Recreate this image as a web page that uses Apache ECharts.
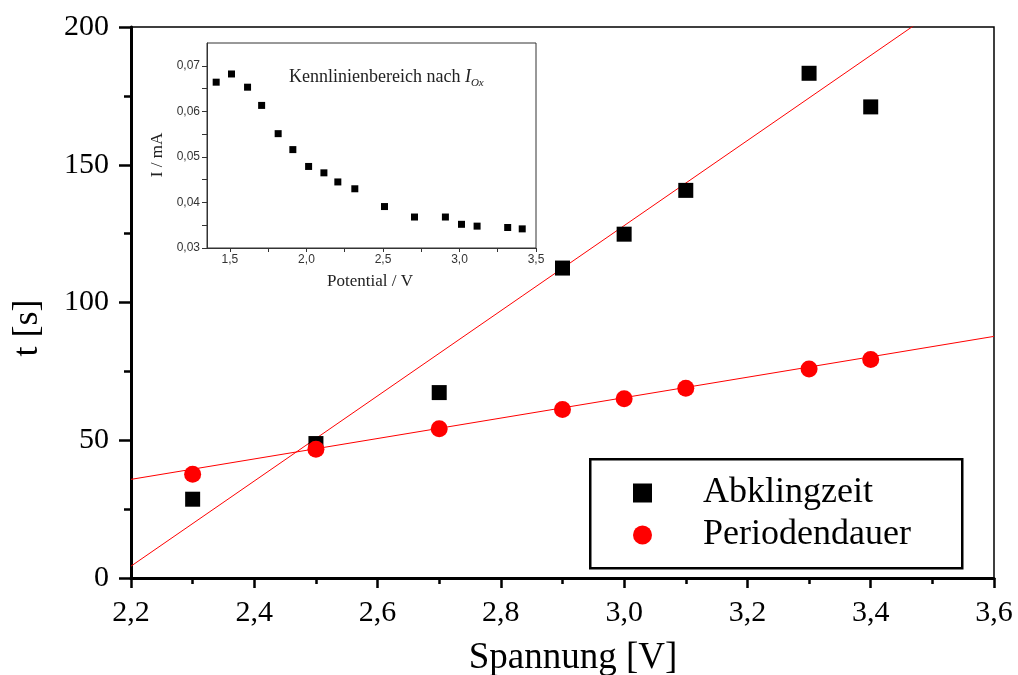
<!DOCTYPE html>
<html>
<head>
<meta charset="utf-8">
<script src="https://cdn.jsdelivr.net/npm/echarts@6/dist/echarts.min.js"></script>
<style>
html,body{margin:0;padding:0;background:#fff;}
#chart{width:1018px;height:675px;}
</style>
</head>
<body>
<div id="chart"></div>
<script>
// ---- main chart data ----
const spannung = [2.3, 2.5, 2.7, 2.9, 3.0, 3.1, 3.3, 3.4];
const abklingzeit = [28.6, 48.8, 67.3, 112.5, 124.8, 140.7, 183.2, 171.0];
const periodendauer = [37.7, 46.7, 54.2, 61.2, 65.1, 68.9, 75.9, 79.3];
// linear fit lines (end points)
const fitX = [2.2, 3.6];
const fitAbklingzeit = [4.3, 220.6];
const fitPeriodendauer = [35.8, 87.7];

// ---- inset data ----
const potential = [1.41, 1.51, 1.615, 1.707, 1.815, 1.911, 2.014, 2.114, 2.205, 2.316, 2.51, 2.706, 2.908, 3.013, 3.115, 3.315, 3.41];
const strom = [0.0664, 0.0682, 0.0653, 0.0613, 0.0551, 0.0516, 0.0479, 0.0465, 0.0445, 0.0430, 0.0391, 0.0368, 0.0368, 0.0352, 0.0348, 0.0345, 0.0342];
const insetXTicks = [1.5, 1.75, 2.0, 2.25, 2.5, 2.75, 3.0, 3.25, 3.5];
const insetXLabels = [1.5, 2.0, 2.5, 3.0, 3.5];
const insetYTicks = [0.03, 0.035, 0.04, 0.045, 0.05, 0.055, 0.06, 0.065, 0.07];
const insetYLabels = [0.03, 0.04, 0.05, 0.06, 0.07];

const zip = (a, b) => a.map((v, i) => [v, b[i]]);
const serif = 'Liberation Serif';
const sans = 'Liberation Sans';
const comma = d => v => v.toFixed(d).replace('.', ',');

const chart = echarts.init(document.getElementById('chart'), null, {renderer: 'canvas'});
chart.setOption({
  animation: false,
  backgroundColor: '#fff',
  grid: [
    {left: 131, top: 27, width: 863, height: 551, show: true, borderColor: '#000', borderWidth: 1.5, backgroundColor: 'transparent'},
    {left: 207, top: 43, width: 329, height: 205, show: true, borderColor: '#333', borderWidth: 1, backgroundColor: '#fff', z: 5}
  ],
  xAxis: [
    {
      type: 'value', gridIndex: 0, min: 2.2, max: 3.6, interval: 0.2,
      axisLine: {show: true, onZero: false, lineStyle: {color: '#000', width: 3}},
      axisTick: {show: true, inside: false, length: 10, lineStyle: {color: '#000', width: 2.5}},
      minorTick: {show: true, splitNumber: 2, length: 6, lineStyle: {color: '#000', width: 2.5}},
      splitLine: {show: false},
      axisLabel: {margin: 20, fontFamily: serif, fontSize: 30, color: '#000', formatter: comma(1)}
    },
    {
      type: 'value', gridIndex: 1, min: 1.35, max: 3.5, z: 6,
      axisLine: {show: true, onZero: false, lineStyle: {color: '#333', width: 1}},
      axisTick: {show: true, inside: false, length: 4, customValues: insetXTicks, lineStyle: {color: '#333', width: 1}},
      splitLine: {show: false},
      axisLabel: {margin: 6, fontFamily: sans, fontSize: 12, color: '#333', customValues: insetXLabels, formatter: comma(1)}
    }
  ],
  yAxis: [
    {
      type: 'value', gridIndex: 0, min: 0, max: 200, interval: 50,
      axisLine: {show: true, onZero: false, lineStyle: {color: '#000', width: 3}},
      axisTick: {show: true, inside: false, length: 12, lineStyle: {color: '#000', width: 2.5}},
      minorTick: {show: true, splitNumber: 2, length: 7, lineStyle: {color: '#000', width: 2.5}},
      splitLine: {show: false},
      axisLabel: {margin: 22, fontFamily: serif, fontSize: 30, color: '#000'}
    },
    {
      type: 'value', gridIndex: 1, min: 0.03, max: 0.075, z: 6,
      axisLine: {show: true, onZero: false, lineStyle: {color: '#333', width: 1}},
      axisTick: {show: true, inside: false, length: 5, customValues: insetYTicks, lineStyle: {color: '#333', width: 1}},
      splitLine: {show: false},
      axisLabel: {margin: 7, fontFamily: sans, fontSize: 12, color: '#333', customValues: insetYLabels, formatter: comma(2)}
    }
  ],
  legend: {
    show: true, orient: 'vertical', left: 633, top: 473, padding: 0,
    itemWidth: 19, itemHeight: 19, itemGap: 2,
    data: ['Abklingzeit', 'Periodendauer'],
    textStyle: {fontFamily: serif, fontSize: 36, color: '#000', lineHeight: 40, padding: [0, 0, 0, 46]},
    z: 20
  },
  series: [
    {
      name: 'fitAbk', type: 'line', xAxisIndex: 0, yAxisIndex: 0, data: zip(fitX, fitAbklingzeit),
      showSymbol: false, symbol: 'none', clip: true, silent: true,
      lineStyle: {color: '#ff0000', width: 1}, z: 2
    },
    {
      name: 'fitPer', type: 'line', xAxisIndex: 0, yAxisIndex: 0, data: zip(fitX, fitPeriodendauer),
      showSymbol: false, symbol: 'none', clip: true, silent: true,
      lineStyle: {color: '#ff0000', width: 1}, z: 2
    },
    {
      name: 'Abklingzeit', type: 'scatter', xAxisIndex: 0, yAxisIndex: 0, data: zip(spannung, abklingzeit),
      symbol: 'rect', symbolSize: 15, itemStyle: {color: '#000', opacity: 1}, z: 3
    },
    {
      name: 'Periodendauer', type: 'scatter', xAxisIndex: 0, yAxisIndex: 0, data: zip(spannung, periodendauer),
      symbol: 'circle', symbolSize: 17, itemStyle: {color: '#ff0000', opacity: 1}, z: 4
    },
    {
      name: 'Kennlinie', type: 'scatter', xAxisIndex: 1, yAxisIndex: 1, data: zip(potential, strom),
      symbol: 'rect', symbolSize: 7, itemStyle: {color: '#000', opacity: 1}, z: 7
    }
  ],
  graphic: [
    {type: 'rect', left: 589, top: 458, z: 15, shape: {width: 372, height: 109},
     style: {fill: '#fff', stroke: '#000', lineWidth: 2.5}},
    {type: 'text', x: 28, y: 328, rotation: Math.PI / 2, z: 20,
     style: {text: 't [s]', fontFamily: serif, fontSize: 36, fill: '#000', align: 'center', verticalAlign: 'middle'}},
    {type: 'text', x: 573, y: 658, z: 20,
     style: {text: 'Spannung [V]', fontFamily: serif, fontSize: 37, fill: '#000', align: 'center', verticalAlign: 'middle'}},
    {type: 'text', x: 158, y: 155, rotation: Math.PI / 2, z: 20,
     style: {text: 'I / mA', fontFamily: serif, fontSize: 17, fill: '#222', align: 'center', verticalAlign: 'middle'}},
    {type: 'text', x: 370, y: 282, z: 20,
     style: {text: 'Potential / V', fontFamily: serif, fontSize: 17, fill: '#222', align: 'center', verticalAlign: 'middle'}},
    {type: 'text', x: 289, y: 77, z: 20,
     style: {
       text: '{a|Kennlinienbereich nach }{i|I}{s|Ox}',
       align: 'left', verticalAlign: 'middle',
       rich: {
         a: {fontFamily: serif, fontSize: 18, fill: '#222', lineHeight: 24},
         i: {fontFamily: serif, fontSize: 18, fontStyle: 'italic', fill: '#222', lineHeight: 24},
         s: {fontFamily: serif, fontSize: 11, fontStyle: 'italic', fill: '#222', lineHeight: 12, verticalAlign: 'bottom'}
       }
     }}
  ]
});
</script>
</body>
</html>
